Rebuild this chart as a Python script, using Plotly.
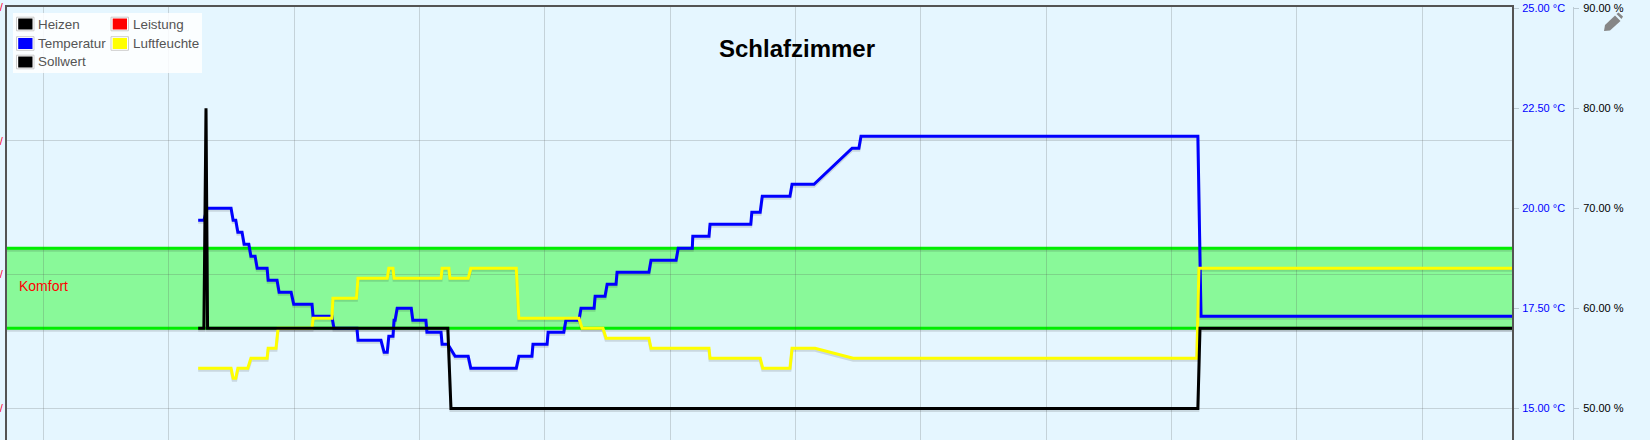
import plotly.graph_objects as go

# Time in minutes from the left edge of a 24 h window
temp_t = [183, 188.5, 191.5, 214.5, 216.5, 219, 221, 225, 227, 231.5, 233.5, 237.5, 239.5, 249, 250,
          258.5, 260.5, 272, 274.5, 292, 293, 311, 313, 335, 336, 358, 361, 364, 365.5, 369.5, 370.5,
          371.5, 373.5, 387, 388.5, 401, 402, 415.5, 416.5, 422, 429, 441.5, 444, 487.5, 490, 502.5,
          503.5, 517, 518, 533, 535, 547.5, 549.5, 562, 563, 572.5, 574.5, 583, 584, 614.5, 616.5,
          640.5, 642.5, 656, 656.5, 672, 673, 712, 713, 721, 723, 749.5, 751.5, 772.5, 809, 815.5,
          817.5, 1140, 1143, 1440.7]
temp_v = [19.7, 19.7, 20.0, 20.0, 19.7, 19.7, 19.4, 19.4, 19.1, 19.1, 18.8, 18.8, 18.5, 18.5, 18.2,
          18.2, 17.9, 17.9, 17.6, 17.6, 17.3, 17.3, 17.0, 17.0, 16.7, 16.7, 16.4, 16.4, 16.8, 16.8, 17.2,
          17.2, 17.5, 17.5, 17.2, 17.2, 16.9, 16.9, 16.6, 16.6, 16.3, 16.3, 16.0, 16.0, 16.3, 16.3,
          16.6, 16.6, 16.9, 16.9, 17.2, 17.2, 17.5, 17.5, 17.8, 17.8, 18.1, 18.1, 18.4, 18.4, 18.7,
          18.7, 19.0, 19.0, 19.3, 19.3, 19.6, 19.6, 19.9, 19.9, 20.3, 20.3, 20.6, 20.6, 21.5, 21.5,
          21.8, 21.8, 17.3, 17.3]

hum_t = [183, 214.5, 216.5, 219, 221, 230.5, 233.5, 249, 250, 257.5, 259.5, 292, 293, 311, 312, 334.5,
         336, 364, 365.5, 369.5, 370.5, 415.5, 416.5, 423, 424, 441.5, 444, 487.5, 490, 547.5, 550.5,
         570.5, 573.5, 614.5, 616.5, 672, 673, 721, 723.5, 749.5, 751.5, 773.5, 810, 1139, 1141, 1440.7]
hum_v = [54, 54, 53, 53, 54, 54, 55, 55, 56, 56, 58, 58, 59, 59, 61, 61, 63, 63, 64, 64, 63, 63, 64, 64,
         63, 63, 64, 64, 59, 59, 58, 58, 57, 57, 56, 56, 55, 55, 54, 54, 56, 56, 55, 55, 64, 64]

soll_t = [183, 188.5, 190.5, 192, 422, 425, 1140, 1142, 1440.7]
soll_v = [17.0, 17.0, 22.5, 17.0, 17.0, 15.0, 15.0, 17.0, 17.0]

comfort_low, comfort_high = 17.0, 19.0
temp_ticks = [15, 17.5, 20, 22.5, 25]
temp_labels = ["15.00 °C", "17.50 °C", "20.00 °C", "22.50 °C", "25.00 °C"]
hum_ticks = [50, 60, 70, 80, 90]
hum_labels = ["50.00 %", "60.00 %", "70.00 %", "80.00 %", "90.00 %"]
power_ticks = [0, 1, 2, 3]
power_labels = ["/", "/", "/", "/"]
legend_items = [("Heizen", "#000000"), ("Leistung", "#FF0000"), ("Temperatur", "#0000FF"),
                ("Luftfeuchte", "#FFFF00"), ("Sollwert", "#000000")]
title = "Schlafzimmer"

W, H = 1650, 440
FONT = "Liberation Sans"
def px(x): return x / W
def py(y): return 1 - y / H

BG = "#E5F6FF"
GRID = "rgba(84,84,84,0.22)"
FRAME = "#545454"
AXL = "#BCCBD4"
SH = "rgba(0,0,0,0.12)"
GREEN = "#00EE00"
T_RANGE = [14.21, 25.03]
H_RANGE = [46.83, 90.13]
DOM = [0, 1 - 7 / H]
SHIFT_T = 0.05   # 2 px drop shadow
SHIFT_H = 0.2

fig = go.Figure()
# Heizen and Leistung have no visible line in the picture; this keeps the left axis in use
fig.add_trace(go.Scatter(x=[], y=[], yaxis="y", mode="lines", name="Heizen", showlegend=False))
# Overlaid axes stack in number order: shadows (y2, y3), temperature (y4), humidity (y5), setpoint (y6)
for t, v, ya in [(temp_t, temp_v, "y2"), (hum_t, hum_v, "y3"), (soll_t, soll_v, "y2")]:
    fig.add_trace(go.Scatter(x=t, y=v, yaxis=ya, mode="lines", line=dict(color=SH, width=3),
                             hoverinfo="skip", showlegend=False))
fig.add_trace(go.Scatter(x=temp_t, y=temp_v, yaxis="y4", mode="lines", name="Temperatur",
                         line=dict(color="#0000FF", width=3), showlegend=False))
fig.add_trace(go.Scatter(x=hum_t, y=hum_v, yaxis="y5", mode="lines", name="Luftfeuchte",
                         line=dict(color="#FFFF00", width=3), showlegend=False))
fig.add_trace(go.Scatter(x=soll_t, y=soll_v, yaxis="y6", mode="lines", name="Sollwert",
                         line=dict(color="#000000", width=3), showlegend=False))

shapes = [
    dict(type="rect", xref="x domain", x0=0, x1=1, yref="y4", y0=comfort_low, y1=comfort_high,
         fillcolor="rgba(0,255,0,0.4)", line_width=0, layer="below"),
    dict(type="line", xref="x domain", x0=0, x1=1, yref="y2", y0=comfort_low, y1=comfort_low,
         line=dict(color=SH, width=3), layer="below"),
    dict(type="line", xref="x domain", x0=0, x1=1, yref="y2", y0=comfort_high, y1=comfort_high,
         line=dict(color=SH, width=3), layer="below"),
    dict(type="line", xref="x domain", x0=0, x1=1, yref="y4", y0=comfort_low, y1=comfort_low,
         line=dict(color=GREEN, width=3), layer="below"),
    dict(type="line", xref="x domain", x0=0, x1=1, yref="y4", y0=comfort_high, y1=comfort_high,
         line=dict(color=GREEN, width=3), layer="below"),
    # legend box
    dict(type="rect", xref="paper", yref="paper", x0=px(13), x1=px(202), y0=py(73), y1=py(13),
         fillcolor="rgba(255,255,255,0.85)", line_width=0, layer="above"),
    # pencil icon
    dict(type="path", xref="paper", yref="paper", layer="above", line_width=0, fillcolor="#868686",
         path=f"M {px(1604)} {py(31)} L {px(1605)} {py(25)} L {px(1615)} {py(15.5)} L {px(1620.5)} {py(21)} "
              f"L {px(1610)} {py(30.5)} Z"),
    dict(type="path", xref="paper", yref="paper", layer="above", line_width=0, fillcolor="#868686",
         path=f"M {px(1616.5)} {py(14)} L {px(1618.5)} {py(12.5)} L {px(1623)} {py(16.5)} L {px(1621.5)} {py(19)} Z"),
]

annotations = [
    dict(text=f"<b>{title}</b>", xref="paper", yref="paper", x=px(797), y=py(49), xanchor="center", yanchor="middle",
         showarrow=False, font=dict(family=FONT, size=24, color="#000000")),
    dict(text="Komfort", xref="paper", yref="paper", x=px(16.5), y=py(286), xanchor="left", yanchor="middle",
         showarrow=False, font=dict(family=FONT, size=14, color="#FF0000")),
]
slots = [(16.5, 24), (111, 24), (16.5, 43.5), (111, 43.5), (16.5, 62)]
for (name, color), (sx, sy) in zip(legend_items, slots):
    shapes.append(dict(type="rect", xref="paper", yref="paper", x0=px(sx), x1=px(sx + 17.5),
                       y0=py(sy + 6.8), y1=py(sy - 6.8), fillcolor="#FFFFFF",
                       line=dict(color="#CCCCCC", width=1), layer="above"))
    shapes.append(dict(type="rect", xref="paper", yref="paper", x0=px(sx + 1.7), x1=px(sx + 16),
                       y0=py(sy + 5.5), y1=py(sy - 5.5), fillcolor=color, line_width=0, layer="above"))
    annotations.append(dict(text=name, xref="paper", yref="paper", x=px(sx + 19.5), y=py(sy), xanchor="left",
                            yanchor="middle", showarrow=False, font=dict(family=FONT, size=13.4, color="#545454")))

hidden = dict(overlaying="y", domain=DOM, showticklabels=False, ticks="", showline=False, showgrid=False, zeroline=False)
fig.update_layout(
    width=W, height=H, autosize=False, paper_bgcolor=BG, plot_bgcolor=BG, showlegend=False,
    margin=dict(l=0, r=0, t=0, b=0, autoexpand=False), shapes=shapes, annotations=annotations,
    xaxis=dict(domain=[px(7), px(1512)], range=[0, 1440.7], side="top", tick0=34.75, dtick=120, tickmode="linear",
               showgrid=True, gridcolor=GRID, gridwidth=1, showticklabels=False, ticks="", zeroline=False,
               showline=True, linecolor=FRAME, linewidth=2),
    yaxis=dict(domain=DOM, range=[-0.2394, 3.0], tickmode="array", tickvals=power_ticks, ticktext=power_labels,
               showgrid=True, gridcolor=GRID, gridwidth=1, zeroline=False, showline=True, linecolor=FRAME,
               linewidth=2, ticks="", tickfont=dict(family=FONT, size=11, color="#FF0033")),
    yaxis2=dict(range=[T_RANGE[0] + SHIFT_T, T_RANGE[1] + SHIFT_T], **hidden),
    yaxis3=dict(range=[H_RANGE[0] + SHIFT_H, H_RANGE[1] + SHIFT_H], **hidden),
    yaxis4=dict(domain=DOM, overlaying="y", side="right", anchor="x", range=T_RANGE, tickmode="array",
                tickvals=temp_ticks, ticktext=temp_labels, showgrid=False, zeroline=False, showline=True,
                linecolor=FRAME, linewidth=2, ticks="outside", ticklen=5, tickcolor=AXL, ticklabelstandoff=1,
                tickfont=dict(family=FONT, size=11, color="#0000FF")),
    yaxis5=dict(domain=DOM, overlaying="y", side="right", anchor="free", position=px(1573), range=H_RANGE,
                tickmode="array", tickvals=hum_ticks, ticktext=hum_labels, showgrid=False, zeroline=False,
                showline=True, linecolor=AXL, linewidth=1, ticks="outside", ticklen=5, tickcolor=AXL,
                ticklabelstandoff=2, tickfont=dict(family=FONT, size=11, color="#000000")),
    yaxis6=dict(range=T_RANGE, **hidden),
)
fig.write_html("out.html", config=dict(displayModeBar=False),
               post_script="document.body.style.margin='0';document.documentElement.style.background='#E5F6FF';")
